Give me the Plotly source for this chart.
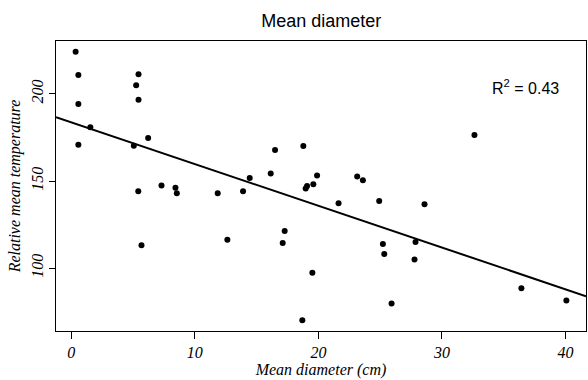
import numpy as np
import plotly.graph_objects as go

diameter = [0.35, 0.57, 0.57, 1.54, 0.57, 5.44, 5.25, 5.44, 5.06, 6.22,
            7.30, 8.43, 8.54, 5.42, 11.85, 5.68, 12.63, 16.49, 18.78, 16.14,
            14.44, 13.90, 19.89, 19.59, 19.08, 18.97, 23.14, 23.60, 21.63, 24.92,
            17.27, 17.11, 19.51, 18.70, 25.22, 25.33, 25.92, 32.63, 28.59, 27.86,
            27.78, 36.43, 40.07]
temperature = [224.2, 210.8, 194.2, 180.8, 170.8, 211.3, 205.0, 196.7, 170.2, 174.7,
               147.4, 146.2, 143.0, 144.2, 143.0, 113.1, 116.3, 167.8, 170.1, 154.3,
               151.8, 144.2, 153.2, 148.2, 147.2, 145.7, 152.6, 150.5, 137.2, 138.6,
               121.3, 114.4, 97.3, 70.1, 113.8, 108.1, 79.7, 176.4, 136.7, 115.0,
               105.0, 88.5, 81.4]
x_ticks = [0, 10, 20, 30, 40]
y_ticks = [100, 150, 200]
r2_label = "R<sup>2</sup> = 0.43"

x = np.array(diameter)
y = np.array(temperature)
slope, intercept = np.polyfit(x, y, 1)

xr = [x.min() - 0.04 * (x.max() - x.min()), x.max() + 0.04 * (x.max() - x.min())]
yr = [y.min() - 0.04 * (y.max() - y.min()), y.max() + 0.04 * (y.max() - y.min())]

serif_it = dict(family="Liberation Serif", size=16, color="black", style="italic")

fig = go.Figure()
fig.add_trace(go.Scatter(x=diameter, y=temperature, mode="markers",
                         marker=dict(color="black", size=6), showlegend=False,
                         cliponaxis=False))
fig.add_trace(go.Scatter(x=xr, y=[intercept + slope * v for v in xr], mode="lines",
                         line=dict(color="black", width=2), showlegend=False))

fig.update_layout(
    width=588, height=380,
    margin=dict(l=56, r=2, t=41, b=49),
    paper_bgcolor="white", plot_bgcolor="white",
    title=dict(text="Mean diameter", x=0.5465, xanchor="center", y=0.945, yanchor="middle",
               font=dict(family="Liberation Sans", size=18, color="black")),
    xaxis=dict(range=xr, tickvals=x_ticks, ticks="outside", ticklen=7, tickcolor="black",
               showgrid=False, zeroline=False, showline=True, linecolor="black", linewidth=1,
               mirror=True, tickfont=serif_it,
               title=dict(text="Mean diameter (cm)", font=serif_it, standoff=3)),
    yaxis=dict(range=yr, tickvals=y_ticks, ticks="outside", ticklen=6, tickcolor="black",
               showgrid=False, zeroline=False, showline=True, linecolor="black", linewidth=1,
               mirror=True, tickangle=-90, tickfont=serif_it,
               title=dict(text="Relative mean temperature", font=serif_it, standoff=3)),
    annotations=[dict(text=r2_label, xref="paper", yref="paper", x=0.885, y=0.84,
                      xanchor="center", yanchor="middle", showarrow=False,
                      font=dict(family="Liberation Sans", size=16, color="black"))],
)

fig.write_html("out.html")
